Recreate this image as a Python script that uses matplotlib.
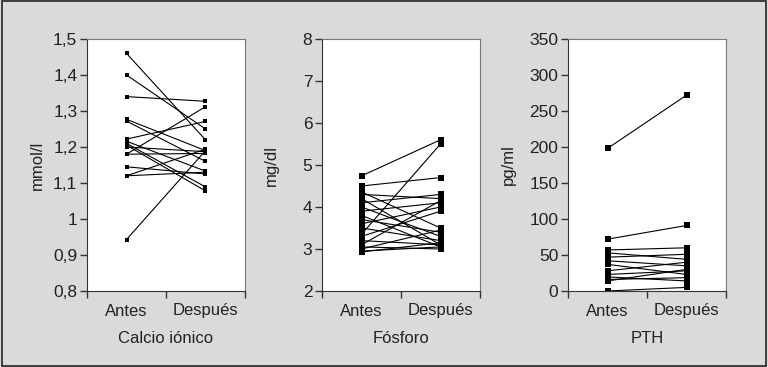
import matplotlib
matplotlib.use("Agg")
import matplotlib.pyplot as plt
from matplotlib.ticker import FuncFormatter

plt.rcParams['font.family'] = ['Liberation Sans', 'DejaVu Sans']

groups = ["Antes", "Después"]

ca_antes = [1.46, 1.40, 1.34, 1.277, 1.272, 1.222, 1.216, 1.21, 1.205, 1.20, 1.18, 1.18, 1.145, 1.12, 1.12, 0.943]
ca_despues = [1.22, 1.25, 1.327, 1.19, 1.16, 1.271, 1.133, 1.089, 1.078, 1.187, 1.312, 1.182, 1.125, 1.194, 1.13, 1.19]

p_antes = [4.74, 4.5, 4.36, 4.3, 4.2, 4.1, 4.0, 3.9, 3.8, 3.7, 3.6, 3.5, 3.35, 3.3, 3.2, 3.1, 3.05, 3.0, 2.95, 2.93]
p_despues = [5.6, 4.7, 3.5, 4.2, 3.1, 4.3, 3.3, 4.1, 3.05, 3.4, 4.0, 3.2, 5.5, 3.9, 3.1, 4.15, 3.0, 3.45, 3.05, 3.15]

pth_antes = [198, 72, 57, 53, 47, 42, 37, 28, 23, 19.5, 16, 14, 0]
pth_despues = [272, 91, 60, 44, 51, 35, 23, 40, 28, 14, 18.5, 30, 5]

panels = [
    dict(antes=ca_antes, despues=ca_despues, ylim=(0.8, 1.5),
         yticks=[0.8, 0.9, 1.0, 1.1, 1.2, 1.3, 1.4, 1.5], ylabel="mmol/l",
         xlabel="Calcio iónico", left=87, ylab_x=45, ms=3.0),
    dict(antes=p_antes, despues=p_despues, ylim=(2, 8),
         yticks=[2, 3, 4, 5, 6, 7, 8], ylabel="mg/dl",
         xlabel="Fósforo", left=322, ylab_x=279, ms=3.8),
    dict(antes=pth_antes, despues=pth_despues, ylim=(0, 350),
         yticks=[0, 50, 100, 150, 200, 250, 300, 350], ylabel="pg/ml",
         xlabel="PTH", left=568, ylab_x=516, ms=3.8),
]

W, H = 768, 367
AXW, AXH = 158, 252
fig = plt.figure(figsize=(W / 100, H / 100), dpi=100)
fig.patch.set_facecolor("#dadada")
fig.patches.append(plt.Rectangle((0.002, 0.004), 0.996, 0.992, transform=fig.transFigure,
                                 fill=False, edgecolor="#222222", linewidth=1.2))

def fmt(v, pos):
    return ("%g" % v).replace(".", ",")

for p in panels:
    ax = fig.add_axes([p["left"] / W, 1 - 291 / H, AXW / W, AXH / H])
    ax.set_facecolor("white")
    for a, d in zip(p["antes"], p["despues"]):
        ax.plot([0.5, 1.5], [a, d], color="black", linewidth=0.8,
                marker="s", markersize=p["ms"], markerfacecolor="black",
                markeredgewidth=0)
    ax.set_xlim(0, 2)
    ax.set_ylim(*p["ylim"])
    ax.set_yticks(p["yticks"])
    ax.yaxis.set_major_formatter(FuncFormatter(fmt))
    ax.set_xticks([0, 1, 2])
    ax.set_xticklabels([])
    ax.set_xticks([0.5, 1.5], minor=True)
    ax.set_xticklabels(groups, minor=True)
    ax.tick_params(axis="x", which="minor", length=0, labelsize=12, pad=9, colors="#222222")
    ax.tick_params(axis="x", which="major", length=5, width=1, color="#333333")
    ax.tick_params(axis="y", length=5, width=1, color="#333333", labelsize=12.5, pad=2,
                   labelcolor="#222222")
    ax.set_ylabel(p["ylabel"], fontsize=12, color="#222222")
    ax.yaxis.set_label_coords((p["ylab_x"] - p["left"]) / AXW, 0.5)
    ax.set_xlabel(p["xlabel"], fontsize=12, labelpad=9, color="#222222")
    for side in ["left", "bottom"]:
        ax.spines[side].set_color("#333333")
    for side in ["top", "right"]:
        ax.spines[side].set_color("#777777")

fig.savefig("out.png", dpi=100, facecolor=fig.get_facecolor())
